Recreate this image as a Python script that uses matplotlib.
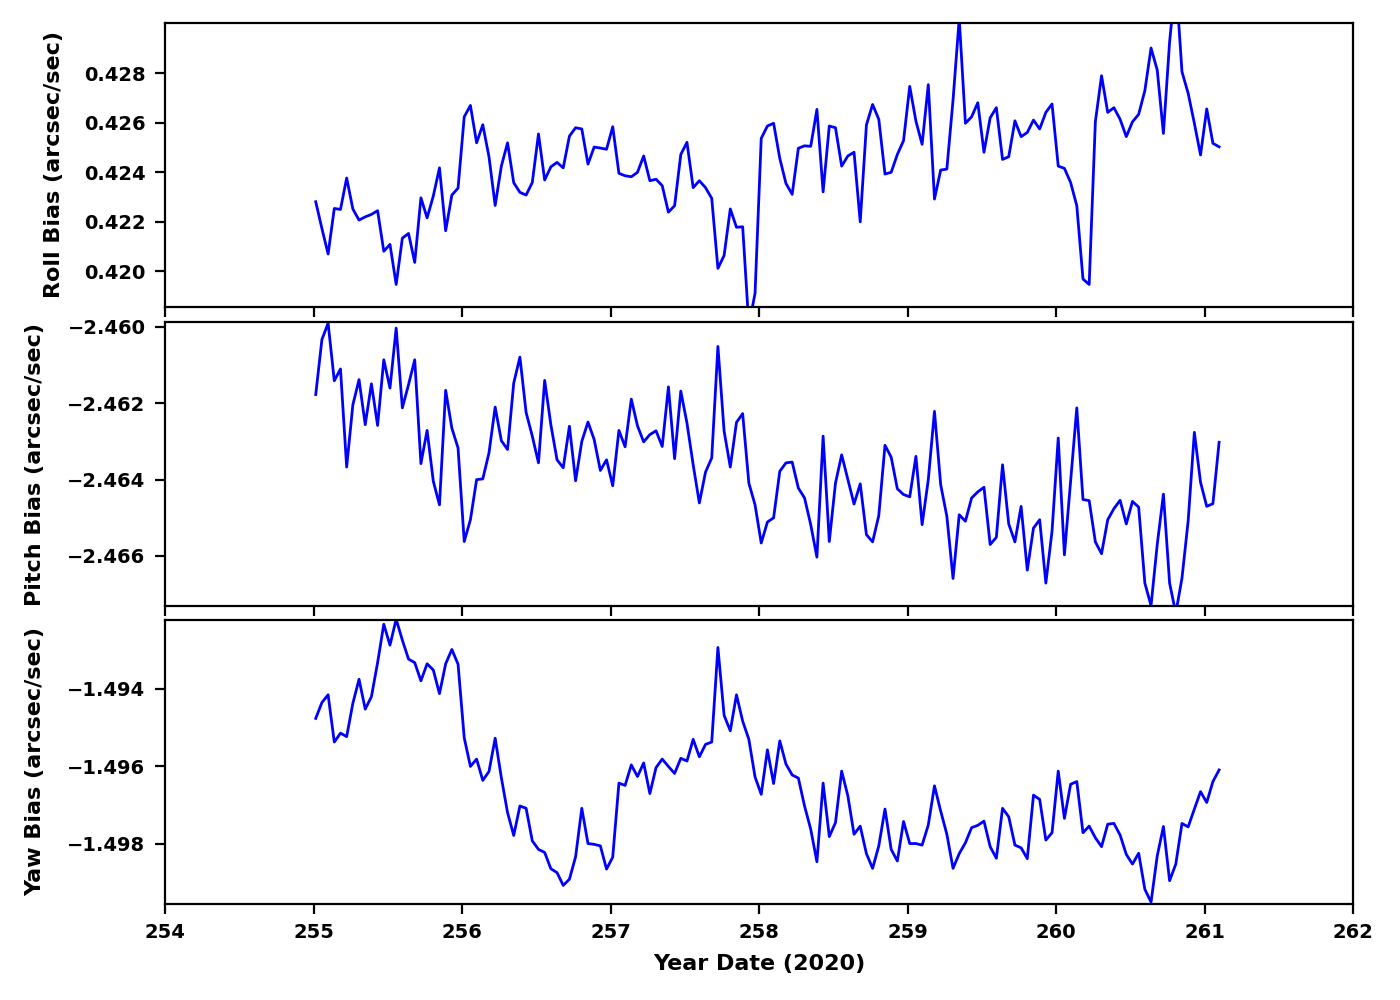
import numpy as np
import matplotlib
matplotlib.use("Agg")
import matplotlib.pyplot as plt
from matplotlib.ticker import FuncFormatter

# Hourly samples (year day 2020)
start_day = 255.015
n_samples = 147
time = start_day + np.arange(n_samples) / 24.0

roll = [
    0.4228, 0.42172, 0.42069, 0.42253, 0.42249, 0.42376, 0.42251, 0.42206, 0.42219, 0.42229,
    0.42244, 0.42080, 0.42108, 0.41946, 0.42133, 0.42152, 0.42035, 0.42296, 0.42215, 0.42303,
    0.42417, 0.42163, 0.42307, 0.42335, 0.42623, 0.42669, 0.42518, 0.42591, 0.42462, 0.42265,
    0.42424, 0.42518, 0.42357, 0.42318, 0.42307, 0.42358, 0.42554, 0.42368, 0.42421, 0.42439,
    0.42417, 0.42545, 0.42579, 0.42574, 0.42432, 0.42501, 0.42497, 0.42492, 0.42583, 0.42395,
    0.42385, 0.42381, 0.42399, 0.42465, 0.42365, 0.42371, 0.42345, 0.42238, 0.42264, 0.42471,
    0.42520, 0.42337, 0.42365, 0.42337, 0.42294, 0.42011, 0.42063, 0.42251, 0.42177, 0.42179,
    0.4178, 0.4191, 0.42536, 0.42586, 0.42597, 0.42455, 0.42354, 0.42310, 0.42496, 0.42506,
    0.42504, 0.42653, 0.42320, 0.42586, 0.42579, 0.42424, 0.42465, 0.42480, 0.42199, 0.42590,
    0.42673, 0.42613, 0.42392, 0.42399, 0.42471, 0.42527, 0.42746, 0.42606, 0.42512, 0.42753,
    0.42291, 0.42408, 0.42412, 0.42691, 0.4302, 0.42597, 0.42623, 0.42680, 0.42480, 0.42619,
    0.42660, 0.42451, 0.42462, 0.42607, 0.42543, 0.42560, 0.42610, 0.42574, 0.42641, 0.42675,
    0.42424, 0.42415, 0.42358, 0.42264, 0.41968, 0.41946, 0.42603, 0.42789, 0.42641, 0.42660,
    0.42613, 0.42543, 0.42603, 0.42633, 0.42729, 0.42901, 0.42812, 0.42556, 0.42926, 0.4318,
    0.42805, 0.42718, 0.42597, 0.42469, 0.42655, 0.42516, 0.42502,
]

pitch = [
    -2.46177, -2.46033, -2.45990, -2.46141, -2.46110, -2.46367, -2.46204, -2.46138, -2.46256, -2.46149,
    -2.46258, -2.46086, -2.46160, -2.46003, -2.46212, -2.46151, -2.46086, -2.46358, -2.46271, -2.46404,
    -2.46466, -2.46166, -2.46265, -2.46317, -2.46562, -2.46505, -2.46400, -2.46398, -2.46330, -2.46210,
    -2.46298, -2.46321, -2.46147, -2.46079, -2.46224, -2.46286, -2.46356, -2.46140, -2.46256, -2.46348,
    -2.46369, -2.46260, -2.46403, -2.46300, -2.46249, -2.46295, -2.46376, -2.46348, -2.46416, -2.46271,
    -2.46314, -2.46189, -2.46259, -2.46301, -2.46282, -2.46272, -2.46313, -2.46157, -2.46345, -2.46168,
    -2.46252, -2.46361, -2.46461, -2.46380, -2.46343, -2.46051, -2.46273, -2.46367, -2.46250, -2.46227,
    -2.46409, -2.46466, -2.46566, -2.46511, -2.46500, -2.46378, -2.46356, -2.46354, -2.46422, -2.46448,
    -2.46518, -2.46603, -2.46286, -2.46562, -2.46409, -2.46335, -2.46400, -2.46464, -2.46411, -2.46544,
    -2.46563, -2.46494, -2.46310, -2.46341, -2.46424, -2.46439, -2.46445, -2.46339, -2.46518, -2.46400,
    -2.46221, -2.46413, -2.46496, -2.46659, -2.46492, -2.46509, -2.46448, -2.46432, -2.46420, -2.46570,
    -2.46551, -2.46361, -2.46516, -2.46563, -2.46470, -2.46637, -2.46527, -2.46505, -2.46671, -2.46535,
    -2.46291, -2.46597, -2.46404, -2.46212, -2.46452, -2.46455, -2.46563, -2.46594, -2.46505, -2.46476,
    -2.46454, -2.46516, -2.46457, -2.46472, -2.46671, -2.4673, -2.46570, -2.46438, -2.46671, -2.4675,
    -2.46658, -2.46508, -2.46276, -2.46407, -2.46470, -2.46463, -2.46302,
]

yaw = [
    -1.49476, -1.49435, -1.49415, -1.49537, -1.49514, -1.49523, -1.49437, -1.49375, -1.49452, -1.49420,
    -1.49332, -1.49233, -1.49287, -1.4922, -1.49274, -1.49323, -1.49332, -1.49379, -1.49335, -1.49351,
    -1.49412, -1.49335, -1.49298, -1.49336, -1.49526, -1.49600, -1.49581, -1.49636, -1.49613, -1.49527,
    -1.49629, -1.49719, -1.49778, -1.49702, -1.49708, -1.49792, -1.49814, -1.49822, -1.49864, -1.49874,
    -1.49907, -1.49891, -1.49833, -1.49708, -1.49799, -1.49801, -1.49805, -1.49865, -1.49834, -1.49643,
    -1.49649, -1.49596, -1.49626, -1.49591, -1.49670, -1.49603, -1.49581, -1.49600, -1.49618, -1.49579,
    -1.49586, -1.49530, -1.49575, -1.49543, -1.49537, -1.49293, -1.49468, -1.49508, -1.49415, -1.49483,
    -1.49530, -1.49627, -1.49672, -1.49557, -1.49644, -1.49534, -1.49594, -1.49622, -1.49630, -1.49702,
    -1.49762, -1.49846, -1.49643, -1.49781, -1.49745, -1.49612, -1.49676, -1.49775, -1.49754, -1.49825,
    -1.49863, -1.49805, -1.49710, -1.49814, -1.49844, -1.49742, -1.49799, -1.49799, -1.49803, -1.49751,
    -1.49650, -1.49715, -1.49775, -1.49863, -1.49825, -1.49797, -1.49758, -1.49752, -1.49741, -1.49807,
    -1.49837, -1.49708, -1.49730, -1.49803, -1.49810, -1.49838, -1.49674, -1.49685, -1.49790, -1.49771,
    -1.49612, -1.49734, -1.49646, -1.49639, -1.49771, -1.49754, -1.49784, -1.49807, -1.49749, -1.49747,
    -1.49777, -1.49827, -1.49852, -1.49824, -1.49917, -1.49950, -1.49831, -1.49755, -1.49895, -1.49852,
    -1.49747, -1.49756, -1.49710, -1.49665, -1.49693, -1.49639, -1.49609,
]

panel_labels = ["Roll Bias (arcsec/sec)", "Pitch Bias (arcsec/sec)", "Yaw Bias (arcsec/sec)"]
panel_ylims = [(0.41855, 0.43002), (-2.46731, -2.45987), (-1.49955, -1.49222)]
panel_yticks = [
    [0.420, 0.422, 0.424, 0.426, 0.428],
    [-2.466, -2.464, -2.462, -2.460],
    [-1.498, -1.496, -1.494],
]
x_ticks = [254, 255, 256, 257, 258, 259, 260, 261, 262]
x_label = "Year Date (2020)"

plt.rcParams["font.family"] = "DejaVu Sans"
plt.rcParams["font.weight"] = "bold"
plt.rcParams["axes.labelweight"] = "bold"
plt.rcParams["font.size"] = 7
plt.rcParams["axes.labelsize"] = 8

fig = plt.figure(figsize=(7, 5), dpi=200)
left, width = 165 / 1400, (1353 - 165) / 1400
tops = [23, 322, 620]
bottoms = [307, 606, 904]
label_x = [-0.085, -0.101, -0.101]
series = [roll, pitch, yaw]

fmt3 = FuncFormatter(lambda v, p: ("%.3f" % v).replace("-", "\u2212"))

for k in range(3):
    ax = fig.add_axes([left, 1 - bottoms[k] / 1000, width, (bottoms[k] - tops[k]) / 1000])
    ax.plot(time, series[k], color="blue", lw=1.0)
    ax.set_xlim(254, 262)
    ax.set_ylim(*panel_ylims[k])
    ax.set_yticks(panel_yticks[k])
    ax.yaxis.set_major_formatter(fmt3)
    ax.set_xticks(x_ticks)
    ax.set_ylabel(panel_labels[k])
    ax.yaxis.set_label_coords(label_x[k], 0.5)
    if k < 2:
        ax.set_xticklabels([])
    else:
        ax.set_xlabel(x_label)
    for lab in ax.get_xticklabels() + ax.get_yticklabels():
        lab.set_fontweight("bold")

fig.savefig("out.png", dpi=200)
